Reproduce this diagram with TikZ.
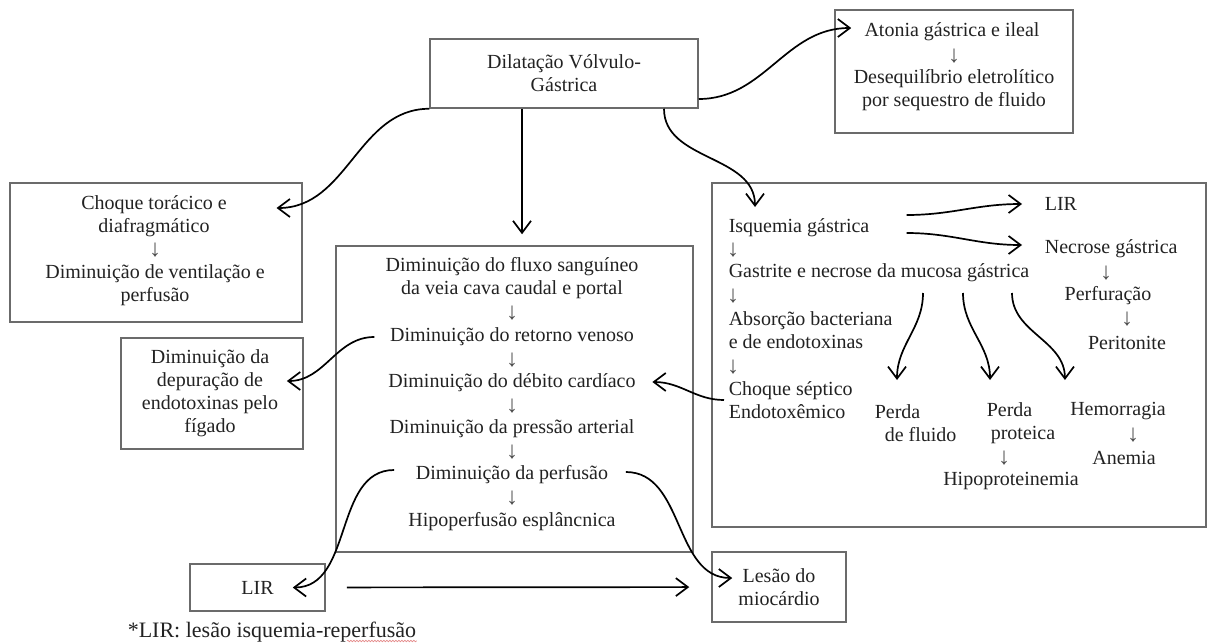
\documentclass[tikz,border=0pt]{standalone}
\usepackage{fontspec}
\setmainfont{Liberation Serif}
\usetikzlibrary{arrows.meta, decorations.pathmorphing}
\definecolor{framegray}{HTML}{6B6B6B}
\definecolor{inkgray}{HTML}{222222}
\definecolor{spellred}{HTML}{E58A8A}

\begin{document}
\begin{tikzpicture}[x=1pt, y=-1pt, >={Straight Barb[length=12pt, width=18pt]}, line width=1.6pt,
  boxed/.style={draw=framegray, line width=1.5pt, inner sep=0pt},
  txt/.style={text=inkgray, font=\fontsize{20}{23}\selectfont, inner sep=0pt, align=center},
  dn/.style={text=inkgray!80, font=\fontsize{24}{24}\selectfont, inner sep=0pt},
  flowarrow/.style={->, line width=1.7pt}]

% Background
\fill[white] (0,0) rectangle (1208,643);
\useasboundingbox (0,0) rectangle (1208,643);

%%% Top: main box and atonia %%%
\node[boxed, txt, minimum width=268pt, minimum height=69pt] (dvg) at (564,73.5) {Dilatação Vólvulo-\\Gástrica};

\node[boxed, minimum width=238pt, minimum height=123pt] (atbox) at (954,71.5) {};
\node[txt] (atonia) at (952,32) {Atonia gástrica e ileal};
\node[dn] (a1) at (954,56) {↓};
\node[txt] (deseq) at (954,90) {Desequilíbrio eletrolítico\\por sequestro de fluido};

%%% Left: choque, figado, LIR %%%
\node[boxed, minimum width=292pt, minimum height=139pt] (chbox) at (156,252.5) {};
\node[txt] (chtor) at (154,216.5) {Choque torácico e\\diafragmático};
\node[dn] (c1) at (155,250) {↓};
\node[txt] (vent) at (155,285) {Diminuição de ventilação e\\perfusão};

\node[boxed, minimum width=182pt, minimum height=111pt] (fgbox) at (212,393.5) {};
\node[txt] (fig) at (210,393) {Diminuição da\\depuração de\\endotoxinas pelo\\fígado};

\node[boxed, txt, minimum width=135pt, minimum height=47pt] (lirb) at (257.5,587.5) {LIR};

%%% Center column %%%
\node[boxed, minimum width=357pt, minimum height=306pt] (cbox) at (514.5,399) {};
\node[txt] (fluxo) at (512,278.5) {Diminuição do fluxo sanguíneo\\da veia cava caudal e portal};
\node[dn] (d1) at (512,313) {↓};
\node[txt] (retorno) at (512,337) {Diminuição do retorno venoso};
\node[dn] (d2) at (512,360) {↓};
\node[txt] (debito) at (512,383) {Diminuição do débito cardíaco};
\node[dn] (d3) at (512,406) {↓};
\node[txt] (pressao) at (512,429) {Diminuição da pressão arterial};
\node[dn] (d4) at (512,452) {↓};
\node[txt] (perfusao) at (512,475) {Diminuição da perfusão};
\node[dn] (d5) at (512,498) {↓};
\node[txt] (hipoesp) at (512,522) {Hipoperfusão esplâncnica};

\node[boxed, txt, minimum width=134pt, minimum height=70pt] (lesao) at (779,587) {Lesão do\\miocárdio};

%%% Right box: gastric ischaemia %%%
\node[boxed, minimum width=494pt, minimum height=344pt] (rbox) at (959,355) {};
\node[txt, anchor=west] (isq) at (728,228) {Isquemia gástrica};
\node[dn] (r1) at (733,250) {↓};
\node[txt, anchor=west] (gastrite) at (728,273) {Gastrite e necrose da mucosa gástrica};
\node[dn] (r2) at (733,296) {↓};
\node[txt, anchor=west, align=left] (absorc) at (728,330.5) {Absorção bacteriana\\e de endotoxinas};
\node[dn] (r3) at (733,367) {↓};
\node[txt, anchor=west, align=left] (choqsep) at (728,400) {Choque séptico\\Endotoxêmico};

\node[txt, anchor=west] (lirr) at (1044,204) {LIR};
\node[txt, anchor=west] (necrose) at (1044,249) {Necrose gástrica};
\node[dn] (n1) at (1106,273) {↓};
\node[txt] (perfur) at (1108,296) {Perfuração};
\node[dn] (n2) at (1127,319) {↓};
\node[txt] (perit) at (1127,343) {Peritonite};

\node[txt, anchor=west, align=left] (perda1) at (874,423) {Perda\\\hspace*{10pt}de fluido};
\node[txt, anchor=west, align=left] (perda2) at (986,423) {Perda\\\hspace*{4pt}proteica};
\node[dn] (p1) at (1004,458) {↓};
\node[txt] (hipoprot) at (1011,481) {Hipoproteinemia};
\node[txt] (hemo) at (1118,411) {Hemorragia};
\node[dn] (h1) at (1133,435) {↓};
\node[txt] (anemia) at (1124,458) {Anemia};

% Footnote
\node[txt, anchor=west, font=\fontsize{22}{26}\selectfont] (foot) at (127,632) {*LIR: lesão isquemia-reperfusão};
\draw[spellred, line width=0.6pt, decorate, decoration={snake, amplitude=0.8pt, segment length=3pt}]
  ([xshift=-70pt, yshift=-9pt]foot.east) -- ([yshift=-9pt]foot.east);

%%% Arrows %%%
\draw[flowarrow] (dvg.south west) to[out=180, in=0] ([xshift=49pt, yshift=8.5pt]chtor.east);
\draw[flowarrow, shorten >=11pt] ([xshift=-42pt]dvg.south) -- ([xshift=-42pt]dvg.south |- cbox.north);
\draw[flowarrow] ([yshift=-25.5pt]dvg.east) to[out=0, in=180] ([xshift=-12.5pt, yshift=4pt]atonia.west);
\draw[flowarrow] ([xshift=100pt]dvg.south) to[out=-90, in=90] ([xshift=27pt, yshift=21pt]isq.west);

\draw[flowarrow] ([xshift=-15pt]retorno.west) to[out=180, in=0] ([xshift=8pt, yshift=12pt]fig.east);
\draw[flowarrow] ([xshift=-4pt]choqsep.west) to[out=180, in=0] ([xshift=16pt, yshift=1pt]debito.east);
\draw[flowarrow] ([xshift=-21pt, yshift=5pt]perfusao.west) to[out=180, in=0] ([xshift=-33pt]lirb.east);
\draw[flowarrow] ([xshift=17pt, yshift=3pt]perfusao.east) to[out=0, in=180] ([xshift=21pt, yshift=9pt]lesao.west);
\draw[flowarrow, shorten <=21pt, shorten >=22pt] (lirb) -- (lesao);

\draw[flowarrow] ([xshift=36.5pt, yshift=13pt]isq.east) to[out=0, in=180] ([xshift=-22pt]lirr.west);
\draw[flowarrow] ([xshift=36.5pt, yshift=-5pt]isq.east) to[out=0, in=180] ([xshift=-22pt, yshift=4pt]necrose.west);

\draw[flowarrow] ([xshift=195pt, yshift=-20pt]gastrite.west) to[out=-90, in=90] ([xshift=23pt, yshift=43pt]perda1.west);
\draw[flowarrow] ([xshift=235pt, yshift=-20pt]gastrite.west) to[out=-90, in=90] ([xshift=4pt, yshift=43pt]perda2.west);
\draw[flowarrow] ([xshift=284pt, yshift=-20pt]gastrite.west) to[out=-90, in=90] ([xshift=-4.5pt, yshift=31pt]hemo.west);

\end{tikzpicture}
\end{document}
